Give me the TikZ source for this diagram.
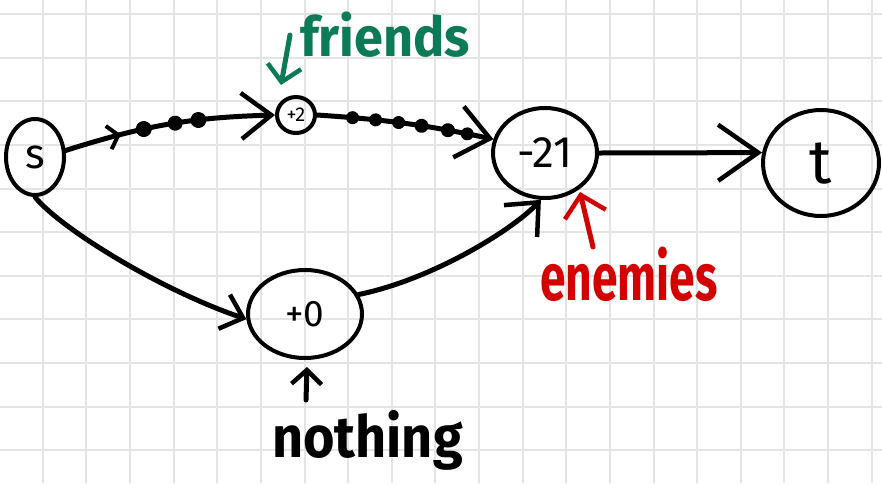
\documentclass[tikz,border=0pt]{standalone}
\usepackage{fontspec}
\setmainfont{Fira Sans}
\usetikzlibrary{arrows.meta,decorations.markings,shapes.geometric}
\definecolor{gridgray}{HTML}{E4E4E4}
\definecolor{fgreen}{HTML}{0B7A57}
\definecolor{ered}{HTML}{D40000}
\begin{document}
\begin{tikzpicture}[x=1pt,y=-1pt,
  vert/.style={draw,ellipse,line width=4pt,inner sep=0pt},
  edge/.style={line width=5pt,line cap=round},
  barb/.style args={#1/#2}{-{Straight Barb[length=#1pt,width=#2pt,line width=4.5pt]}},
  lbl/.style={font=\fontsize{#1}{#1}\selectfont},
  blbl/.style={font=\fontsize{#1}{#1}\selectfont\bfseries},
]
\useasboundingbox (0,0) rectangle (882,483);
\fill[white] (0,0) rectangle (882,483);
\foreach \i in {1,...,20} \draw[gridgray,line width=2pt] ({-0.9+43.63*\i},0) -- ({-0.9+43.63*\i},483);
\foreach \j in {0,...,10} \draw[gridgray,line width=2pt] (0,{14+43.63*\j}) -- (882,{14+43.63*\j});

% vertices
\node[vert,minimum width=58pt,minimum height=76pt,lbl=42] (s) at (35,157) {s};
\node[vert,minimum width=38pt,minimum height=36pt,lbl=20] (p2) at (296,115) {+2};
\node[vert,minimum width=104pt,minimum height=90pt,lbl=44] (m21) at (545,153) {-21};
\node[vert,minimum width=116pt,minimum height=106pt,lbl=62] (t) at (821,163) {t};
\node[vert,minimum width=114pt,minimum height=88pt,lbl=37] (p0) at (305,314) {+0};

% edges
\draw[edge,barb=30/46,
  postaction={decorate,decoration={markings,
    mark=at position 0.27 with {\arrow{Straight Barb[length=10pt,width=24pt,line width=4pt]}},
    mark=at position 0.38 with {\fill (0,0) circle (8pt);},
    mark=at position 0.53 with {\fill (0,0) circle (7.5pt);},
    mark=at position 0.64 with {\fill (0,0) circle (8pt);}}}]
  (s.12) to[bend left=8] (p2.west);
\draw[edge,barb=32/52,
  postaction={decorate,decoration={markings,
    mark=at position 0.2 with {\fill (0,0) circle (6.5pt);},
    mark=at position 0.33 with {\fill (0,0) circle (6.5pt);},
    mark=at position 0.46 with {\fill (0,0) circle (6.5pt);},
    mark=at position 0.59 with {\fill (0,0) circle (7pt);},
    mark=at position 0.74 with {\fill (0,0) circle (7pt);},
    mark=at position 0.85 with {\fill (0,0) circle (6.5pt);}}}]
  (p2.east) to[bend left=4] (m21.165);
\draw[edge,barb=40/56] (m21.east) -- (t.170);
\draw[edge,barb=20/36] (s.south) .. controls (60,228) and (160,290) .. (p0.185);
\draw[edge,barb=26/46] (p0.20) .. controls (430,280) and (510,232) .. (m21.-95);

% annotations
\coordinate (fa) at (290,35);
\coordinate (fb) at (281,85);
\draw[edge,fgreen,barb=16/34] (fa) -- (fb);
\node[blbl=55,text=fgreen,anchor=base west,inner sep=0pt] (friends) at (300,56) {\scalebox{0.95}[1]{friends}};

\coordinate (ea) at (593,247);
\coordinate (eb) at (580,192);
\draw[edge,ered,barb=20/42] (ea) -- (eb);
\node[blbl=66,text=ered,anchor=base west,inner sep=0pt] (enemies) at (540,300) {\scalebox{0.7}[1]{enemies}};

\coordinate (na) at (306,400);
\coordinate (nb) at (307,367);
\draw[edge,barb=14/30] (na) -- (nb);
\node[blbl=58,anchor=base west,inner sep=0pt] (nothing) at (272,457) {\scalebox{0.93}[1]{nothing}};
\end{tikzpicture}
\end{document}
